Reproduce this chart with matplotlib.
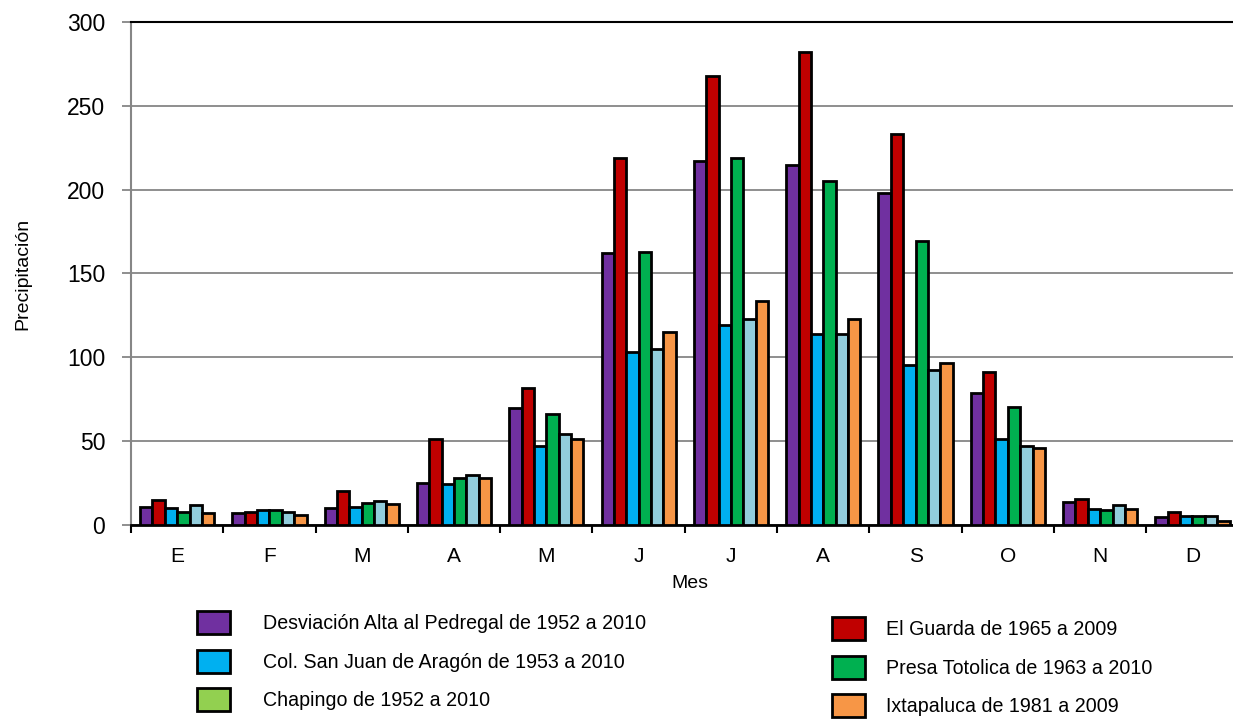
import matplotlib
matplotlib.use("Agg")
import matplotlib.pyplot as plt
from matplotlib.patches import Patch
import numpy as np

plt.rcParams['font.family'] = ['Liberation Sans', 'DejaVu Sans']

# months (Spanish initials)
meses = ['E', 'F', 'M', 'A', 'M', 'J', 'J', 'A', 'S', 'O', 'N', 'D']

# monthly precipitation per station
pedregal  = [11, 7, 10, 25, 70, 162, 217, 215, 198, 79, 14, 5]
guarda    = [15, 7.5, 20, 51, 82, 219, 268, 282, 233, 91, 15.5, 7.5]
aragon    = [10, 9, 11, 24.5, 47, 103, 119, 114, 95.5, 51, 9.5, 5.5]
totolica  = [8, 9, 13, 28, 66, 163, 219, 205, 169.5, 70.5, 9, 5.5]
chapingo  = [12, 7.5, 14.5, 30, 54, 105, 123, 114, 92.5, 47, 12, 5.5]
ixtapaluca = [7, 6, 12.5, 28, 51, 115, 133.5, 123, 96.5, 46, 9.5, 2.5]

series = [pedregal, guarda, aragon, totolica, chapingo, ixtapaluca]
bar_colors = ['#7030A0', '#C00000', '#00B0F0', '#00B050', '#92CDDC', '#F79646']

fig = plt.figure(figsize=(12.33, 7.19), dpi=100)
ax = fig.add_axes([131/1233, 1 - 525/719, 1107.6/1233, 503/719])

x = np.arange(len(meses))
w = 0.134
for i, (vals, c) in enumerate(zip(series, bar_colors)):
    ax.bar(x + (i - 2.5) * w, vals, w, color=c, edgecolor='black', linewidth=2, zorder=3)

ax.set_xlim(-0.5, len(meses) - 0.5)
ax.set_ylim(0, 300)
ax.set_yticks(np.arange(0, 301, 50))
ax.yaxis.grid(True, color='#868686', linewidth=1.3, zorder=0)
ax.set_axisbelow(True)

ax.set_xticks(x)
ax.set_xticklabels(meses, fontsize=15)
ax.set_xticks(np.arange(-0.5, len(meses), 1), minor=True)
ax.tick_params(axis='x', which='major', length=0, pad=16)
ax.tick_params(axis='x', which='minor', length=6, width=1.5, color='black', direction='out')
ax.tick_params(axis='y', length=6.5, width=1.3, color='#868686', pad=12, labelsize=16.5)

ax.spines['right'].set_visible(False)
ax.spines['top'].set_color('black')
ax.spines['top'].set_linewidth(1.5)
ax.spines['bottom'].set_color('black')
ax.spines['bottom'].set_linewidth(2)
ax.spines['left'].set_color('#868686')
ax.spines['left'].set_linewidth(1.5)

fig.text(690/1233, 1 - 583/719, 'Mes', ha='center', va='center', fontsize=14)
fig.text(23/1233, 1 - 274/719, 'Precipitación', ha='center', va='center', rotation=90, fontsize=14)

leg_kw = dict(frameon=False, fontsize=14.1, handlelength=1.68, handleheight=1.45,
              labelspacing=0.78, borderpad=0, borderaxespad=0)
h1 = [Patch(facecolor='#7030A0', edgecolor='black', linewidth=2),
      Patch(facecolor='#00B0F0', edgecolor='black', linewidth=2),
      Patch(facecolor='#92D050', edgecolor='black', linewidth=2)]
l1 = ['Desviación Alta al Pedregal de 1952 a 2010',
      'Col. San Juan de Aragón de 1953 a 2010',
      'Chapingo de 1952 a 2010']
h2 = [Patch(facecolor='#C00000', edgecolor='black', linewidth=2),
      Patch(facecolor='#00B050', edgecolor='black', linewidth=2),
      Patch(facecolor='#F79646', edgecolor='black', linewidth=2)]
l2 = ['El Guarda de 1965 a 2009',
      'Presa Totolica de 1963 a 2010',
      'Ixtapaluca de 1981 a 2009']
leg1 = fig.legend(h1, l1, loc='upper left', bbox_to_anchor=(197/1233, 1 - 611/719),
                  handletextpad=1.68, **leg_kw)
leg2 = fig.legend(h2, l2, loc='upper left', bbox_to_anchor=(832/1233, 1 - 617/719),
                  handletextpad=1.1, **leg_kw)

fig.savefig('out.png', dpi=100)
